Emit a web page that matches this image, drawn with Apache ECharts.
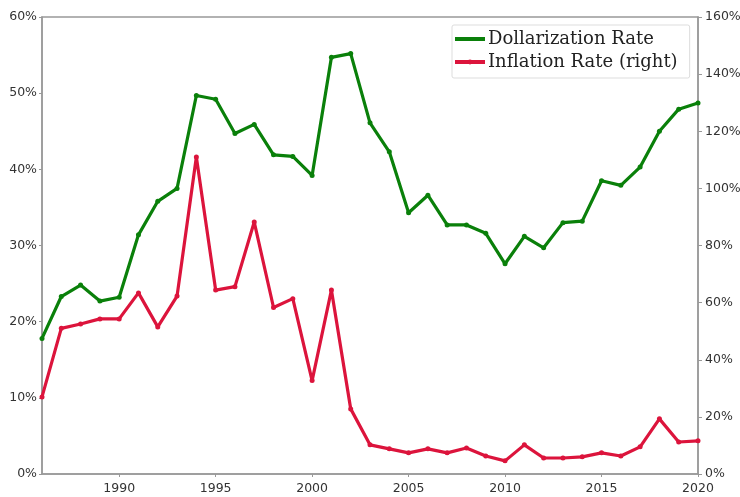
<!DOCTYPE html>
<html>
<head>
<meta charset="utf-8">
<script src="https://cdn.jsdelivr.net/npm/echarts@6/dist/echarts.min.js"></script>
<style>html,body{margin:0;padding:0;background:#fff;}#c{width:740px;height:497px;}</style>
</head>
<body>
<div id="c"></div>
<script>
const years = [1986,1987,1988,1989,1990,1991,1992,1993,1994,1995,1996,1997,1998,1999,2000,2001,2002,2003,2004,2005,2006,2007,2008,2009,2010,2011,2012,2013,2014,2015,2016,2017,2018,2019,2020];
const dollarization = [17.8,23.3,24.8,22.7,23.2,31.4,35.8,37.5,49.7,49.2,44.7,45.9,41.9,41.7,39.2,54.7,55.2,46.1,42.3,34.3,36.6,32.7,32.7,31.6,27.6,31.2,29.7,33.0,33.2,38.5,37.9,40.3,45.0,47.9,48.7];
const inflation = [27.0,51.0,52.5,54.3,54.3,63.4,51.5,62.3,111.0,64.4,65.6,88.2,58.3,61.4,32.7,64.4,22.8,10.2,8.8,7.4,8.8,7.4,9.1,6.3,4.6,10.2,5.6,5.6,6.0,7.4,6.3,9.5,19.3,11.2,11.6];
const leftTicks = {min:0, max:60, interval:10};
const rightTicks = {min:0, max:160, interval:20};

const chart = echarts.init(document.getElementById('c'), null, {renderer:'canvas'});
const axisFont = {fontFamily:'DejaVu Sans', fontSize:12.5, color:'#333'};
const showYear = (i, v) => Number(v) % 5 === 0;
chart.setOption({
  animation:false,
  backgroundColor:'#fff',
  grid:{left:42, right:42, top:17, bottom:23, show:true, borderColor:'#999', borderWidth:1.5, containLabel:false, outerBoundsMode:'none'},
  legend:{
    left:452, top:25, orient:'vertical', itemGap:5, itemWidth:30, itemHeight:6,
    backgroundColor:'#fff', borderColor:'#ddd', borderWidth:1, borderRadius:2,
    padding:[5,12,7,1],
    lineStyle:{width:4},
    textStyle:{fontFamily:'DejaVu Serif', fontSize:18, color:'#222', padding:[0,0,0,-2]},
    data:[{name:'Dollarization Rate', itemStyle:{opacity:0}}, {name:'Inflation Rate (right)'}]
  },
  xAxis:{
    type:'category', data:years.map(String), boundaryGap:false,
    axisLine:{show:true, lineStyle:{color:'#999', width:1.5}},
    axisTick:{show:true, interval:showYear, length:3, lineStyle:{color:'#999'}},
    axisLabel:Object.assign({interval:showYear, margin:8, showMaxLabel:true}, axisFont),
    splitLine:{show:false}
  },
  yAxis:[
    Object.assign({type:'value', position:'left',
      axisLine:{show:true, lineStyle:{color:'#999', width:1.5}},
      axisTick:{show:true, length:3, lineStyle:{color:'#999'}},
      axisLabel:Object.assign({formatter:'{value}%', margin:5}, axisFont),
      splitLine:{show:false}}, leftTicks),
    Object.assign({type:'value', position:'right',
      axisLine:{show:true, lineStyle:{color:'#999', width:1.5}},
      axisTick:{show:true, length:4, lineStyle:{color:'#999'}},
      axisLabel:Object.assign({formatter:'{value}%', margin:7}, axisFont),
      splitLine:{show:false}}, rightTicks)
  ],
  series:[
    {name:'Dollarization Rate', type:'line', yAxisIndex:0, data:dollarization,
     symbol:'circle', symbolSize:5, showSymbol:true, showAllSymbol:true,
     lineStyle:{color:'#0a800a', width:3.2}, itemStyle:{color:'#0a800a'}},
    {name:'Inflation Rate (right)', type:'line', yAxisIndex:1, data:inflation,
     symbol:'circle', symbolSize:5, showSymbol:true, showAllSymbol:true,
     lineStyle:{color:'#dc143c', width:3.2}, itemStyle:{color:'#dc143c'}}
  ]
});
</script>
</body>
</html>
